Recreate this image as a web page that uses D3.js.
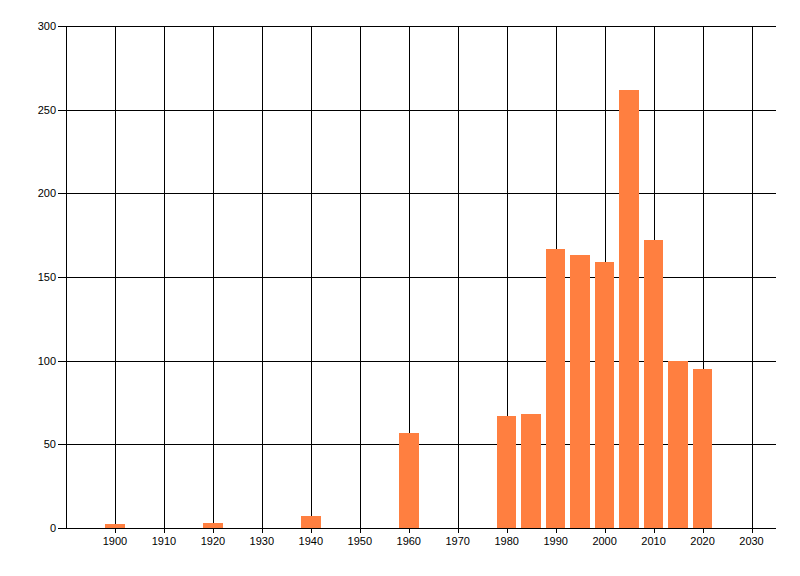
<!DOCTYPE html>
<html lang="en">
<head>
    <meta charset="UTF-8">
    <script src="https://d3js.org/d3.v7.min.js"></script>
    <style>
    body { margin: 0; background: #fff; }
    .grid line, .axis line, .axis path { stroke: #000; shape-rendering: crispEdges; }
    .grid .domain { stroke: none; }
    rect.bar { shape-rendering: crispEdges; }
    text { font-family: "Liberation Sans", Arial, sans-serif; font-size: 11px; fill: #000; }
    </style>
</head>
<body>
    <svg id="chart" width="800" height="576"></svg>
    <script>
        // Data
        const years = [1900, 1920, 1940, 1960, 1980, 1985, 1990, 1995, 2000, 2005, 2010, 2015, 2020];
        const counts = [2.5, 3, 7, 57, 67, 68, 167, 163, 159, 262, 172, 100, 95];
        const xTicks = [1900, 1910, 1920, 1930, 1940, 1950, 1960, 1970, 1980, 1990, 2000, 2010, 2020, 2030];
        const yTicks = [0, 50, 100, 150, 200, 250, 300];

        const svg = d3.select('svg#chart');
        const width = +svg.attr('width');
        const height = +svg.attr('height');
        const margins = {top: 26, right: 24, bottom: 48, left: 66};
        const chartWidth = width - margins.left - margins.right;
        const chartHeight = height - margins.top - margins.bottom;
        const chartArea = svg.append('g')
            .attr('transform', `translate(${margins.left},${margins.top})`);

        const xScale = d3.scaleLinear().domain([1890, 2035]).range([0, chartWidth]);
        const yScale = d3.scaleLinear().domain([0, 300]).range([chartHeight, 0]);

        // horizontal gridlines (ticks poke out left of the axis)
        chartArea.append('g')
            .attr('class', 'grid')
            .attr('transform', `translate(${chartWidth},0)`)
            .call(d3.axisLeft(yScale).tickValues(yTicks).tickSize(chartWidth + 8).tickFormat(''));

        // vertical gridlines (ticks poke out below the axis)
        chartArea.append('g')
            .attr('class', 'grid')
            .call(d3.axisBottom(xScale).tickValues(xTicks).tickSize(chartHeight + 5).tickFormat(''));

        // bars, 4 years wide
        chartArea.selectAll('rect.bar')
            .data(years.map((y, i) => ({year: y, value: counts[i]})))
            .enter()
            .append('rect')
            .attr('class', 'bar')
            .attr('x', d => xScale(d.year - 2))
            .attr('width', d => xScale(d.year + 2) - xScale(d.year - 2))
            .attr('y', d => yScale(d.value))
            .attr('height', d => chartHeight - yScale(d.value))
            .attr('fill', '#FF7F40');

        // axis lines
        chartArea.append('line')
            .attr('x1', 0).attr('x2', 0).attr('y1', 0).attr('y2', chartHeight)
            .attr('stroke', '#000').attr('shape-rendering', 'crispEdges');
        chartArea.append('line')
            .attr('x1', -8).attr('x2', chartWidth).attr('y1', chartHeight).attr('y2', chartHeight)
            .attr('stroke', '#000').attr('shape-rendering', 'crispEdges');

        // tick labels
        chartArea.append('g').selectAll('text')
            .data(yTicks)
            .enter()
            .append('text')
            .attr('x', -10)
            .attr('y', d => yScale(d))
            .attr('dy', '0.35em')
            .attr('text-anchor', 'end')
            .text(d => d);

        chartArea.append('g').selectAll('text')
            .data(xTicks)
            .enter()
            .append('text')
            .attr('x', d => xScale(d))
            .attr('y', chartHeight + 17)
            .attr('text-anchor', 'middle')
            .text(d => d);
    </script>
</body>
</html>
